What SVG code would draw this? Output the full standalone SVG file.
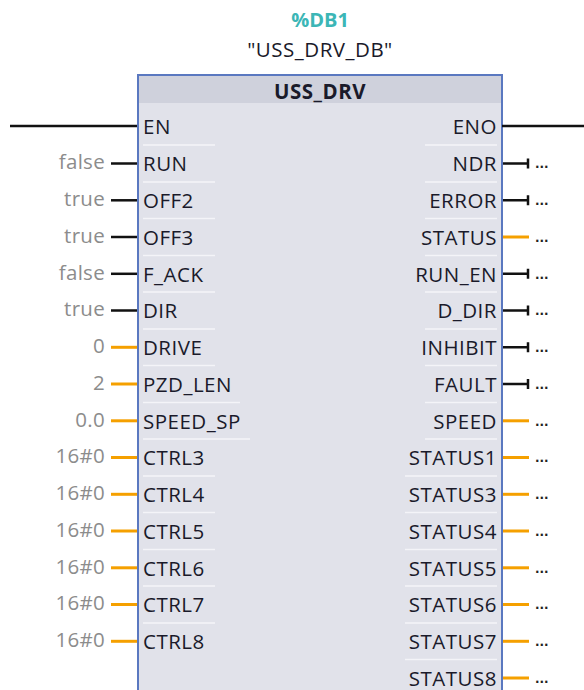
<svg xmlns="http://www.w3.org/2000/svg" width="584" height="690" viewBox="0 0 584 690">
<style>
.t{font-family:"Open Sans","Noto Sans",sans-serif;font-size:20.5px;letter-spacing:0.5px;fill:#1a1a2a}
.v{font-family:"Open Sans","Noto Sans",sans-serif;font-size:20.5px;letter-spacing:0.3px;fill:#8c8c8c;text-anchor:end}
.r{text-anchor:end}
.b{stroke:#111;stroke-width:2.5;fill:none}
.o{stroke:#f5a000;stroke-width:3;fill:none}
.sep{stroke:#f4f4f8;stroke-width:1.5}
.d{font-family:"DejaVu Sans",sans-serif;font-size:12px;font-weight:bold;fill:#222}
</style>
<rect width="584" height="690" fill="#fff"/>
<g id="header">
<text x="320" y="27" text-anchor="middle" font-family="Open Sans, sans-serif" font-size="20" font-weight="bold" fill="#3cb6b6">%DB1</text>
<text x="320" y="57" text-anchor="middle" class="t">"USS_DRV_DB"</text>
</g>
<g id="block">
<rect x="138" y="75" width="364" height="630" fill="#e1e2ea" stroke="#5a78c0" stroke-width="2"/>
<rect x="139" y="76" width="362" height="27" fill="#cfd1dc"/>
<text x="320" y="99" text-anchor="middle" class="t" font-weight="bold">USS_DRV</text>
</g>
<g id="connectors">
<line x1="10" y1="126" x2="137" y2="126" class="b"/>
<line x1="502" y1="126" x2="584" y2="126" class="b"/>
<line x1="111" y1="163.5" x2="137" y2="163.5" class="b"/>
<line x1="111" y1="200.3" x2="137" y2="200.3" class="b"/>
<line x1="111" y1="237" x2="137" y2="237" class="b"/>
<line x1="111" y1="273.8" x2="137" y2="273.8" class="b"/>
<line x1="111" y1="310.5" x2="137" y2="310.5" class="b"/>
<line x1="111" y1="347.3" x2="137" y2="347.3" class="o"/>
<line x1="111" y1="384" x2="137" y2="384" class="o"/>
<line x1="111" y1="420.8" x2="137" y2="420.8" class="o"/>
<line x1="111" y1="457.5" x2="137" y2="457.5" class="o"/>
<line x1="111" y1="494.3" x2="137" y2="494.3" class="o"/>
<line x1="111" y1="531" x2="137" y2="531" class="o"/>
<line x1="111" y1="567.8" x2="137" y2="567.8" class="o"/>
<line x1="111" y1="604.5" x2="137" y2="604.5" class="o"/>
<line x1="111" y1="641.3" x2="137" y2="641.3" class="o"/>
<path d="M503 163.5H528M528 158.5V168.5" class="b"/>
<path d="M503 200.3H528M528 195.3V205.3" class="b"/>
<line x1="503" y1="237" x2="529" y2="237" class="o"/>
<path d="M503 273.8H528M528 268.8V278.8" class="b"/>
<path d="M503 310.5H528M528 305.5V315.5" class="b"/>
<path d="M503 347.3H528M528 342.3V352.3" class="b"/>
<path d="M503 384H528M528 379V389" class="b"/>
<line x1="503" y1="420.8" x2="529" y2="420.8" class="o"/>
<line x1="503" y1="457.5" x2="529" y2="457.5" class="o"/>
<line x1="503" y1="494.3" x2="529" y2="494.3" class="o"/>
<line x1="503" y1="531" x2="529" y2="531" class="o"/>
<line x1="503" y1="567.8" x2="529" y2="567.8" class="o"/>
<line x1="503" y1="604.5" x2="529" y2="604.5" class="o"/>
<line x1="503" y1="641.3" x2="529" y2="641.3" class="o"/>
<line x1="503" y1="678" x2="529" y2="678" class="o"/>
</g>
<g id="separators">
<line x1="143" y1="145" x2="215" y2="145" class="sep"/><line x1="425" y1="145" x2="497" y2="145" class="sep"/>
<line x1="143" y1="182" x2="215" y2="182" class="sep"/><line x1="425" y1="182" x2="497" y2="182" class="sep"/>
<line x1="143" y1="218.5" x2="215" y2="218.5" class="sep"/><line x1="425" y1="218.5" x2="497" y2="218.5" class="sep"/>
<line x1="143" y1="255.5" x2="215" y2="255.5" class="sep"/><line x1="425" y1="255.5" x2="497" y2="255.5" class="sep"/>
<line x1="143" y1="292" x2="215" y2="292" class="sep"/><line x1="425" y1="292" x2="497" y2="292" class="sep"/>
<line x1="143" y1="329" x2="215" y2="329" class="sep"/><line x1="425" y1="329" x2="497" y2="329" class="sep"/>
<line x1="143" y1="365.5" x2="215" y2="365.5" class="sep"/><line x1="425" y1="365.5" x2="497" y2="365.5" class="sep"/>
<line x1="143" y1="402.5" x2="240" y2="402.5" class="sep"/><line x1="425" y1="402.5" x2="497" y2="402.5" class="sep"/>
<line x1="143" y1="439" x2="250" y2="439" class="sep"/><line x1="425" y1="439" x2="497" y2="439" class="sep"/>
<line x1="143" y1="476" x2="215" y2="476" class="sep"/><line x1="405" y1="476" x2="497" y2="476" class="sep"/>
<line x1="143" y1="512.5" x2="215" y2="512.5" class="sep"/><line x1="405" y1="512.5" x2="497" y2="512.5" class="sep"/>
<line x1="143" y1="549.5" x2="215" y2="549.5" class="sep"/><line x1="405" y1="549.5" x2="497" y2="549.5" class="sep"/>
<line x1="143" y1="586" x2="215" y2="586" class="sep"/><line x1="405" y1="586" x2="497" y2="586" class="sep"/>
<line x1="143" y1="623" x2="215" y2="623" class="sep"/><line x1="405" y1="623" x2="497" y2="623" class="sep"/>
<line x1="405" y1="659.5" x2="497" y2="659.5" class="sep"/>
</g>
<g id="inputs">
<text x="143" y="134" class="t">EN</text>
<text x="143" y="171" class="t">RUN</text>
<text x="143" y="208" class="t">OFF2</text>
<text x="143" y="244.5" class="t">OFF3</text>
<text x="143" y="281.5" class="t">F_ACK</text>
<text x="143" y="318" class="t">DIR</text>
<text x="143" y="355" class="t">DRIVE</text>
<text x="143" y="391.5" class="t">PZD_LEN</text>
<text x="143" y="428.5" class="t">SPEED_SP</text>
<text x="143" y="465" class="t">CTRL3</text>
<text x="143" y="502" class="t">CTRL4</text>
<text x="143" y="538.5" class="t">CTRL5</text>
<text x="143" y="575.5" class="t">CTRL6</text>
<text x="143" y="612" class="t">CTRL7</text>
<text x="143" y="649" class="t">CTRL8</text>
</g>
<g id="values">
<text x="105" y="169" class="v">false</text>
<text x="105" y="206" class="v">true</text>
<text x="105" y="242.5" class="v">true</text>
<text x="105" y="279.5" class="v">false</text>
<text x="105" y="316" class="v">true</text>
<text x="105" y="353" class="v">0</text>
<text x="105" y="389.5" class="v">2</text>
<text x="105" y="426.5" class="v">0.0</text>
<text x="105" y="463" class="v">16#0</text>
<text x="105" y="500" class="v">16#0</text>
<text x="105" y="536.5" class="v">16#0</text>
<text x="105" y="573.5" class="v">16#0</text>
<text x="105" y="610" class="v">16#0</text>
<text x="105" y="647" class="v">16#0</text>
</g>
<g id="outputs">
<text x="497" y="134" class="t r">ENO</text>
<text x="497" y="171" class="t r">NDR</text>
<text x="497" y="208" class="t r">ERROR</text>
<text x="497" y="244.5" class="t r">STATUS</text>
<text x="497" y="281.5" class="t r">RUN_EN</text>
<text x="497" y="318" class="t r">D_DIR</text>
<text x="497" y="355" class="t r">INHIBIT</text>
<text x="497" y="391.5" class="t r">FAULT</text>
<text x="497" y="428.5" class="t r">SPEED</text>
<text x="497" y="465" class="t r">STATUS1</text>
<text x="497" y="502" class="t r">STATUS3</text>
<text x="497" y="538.5" class="t r">STATUS4</text>
<text x="497" y="575.5" class="t r">STATUS5</text>
<text x="497" y="612" class="t r">STATUS6</text>
<text x="497" y="649" class="t r">STATUS7</text>
<text x="497" y="685.5" class="t r">STATUS8</text>
</g>
<g id="dots">
<text x="535" y="168" class="d">...</text>
<text x="535" y="205" class="d">...</text>
<text x="535" y="241.5" class="d">...</text>
<text x="535" y="278.5" class="d">...</text>
<text x="535" y="315" class="d">...</text>
<text x="535" y="352" class="d">...</text>
<text x="535" y="388.5" class="d">...</text>
<text x="535" y="425.5" class="d">...</text>
<text x="535" y="462" class="d">...</text>
<text x="535" y="499" class="d">...</text>
<text x="535" y="535.5" class="d">...</text>
<text x="535" y="572.5" class="d">...</text>
<text x="535" y="609" class="d">...</text>
<text x="535" y="646" class="d">...</text>
<text x="535" y="682.5" class="d">...</text>
</g>
</svg>
